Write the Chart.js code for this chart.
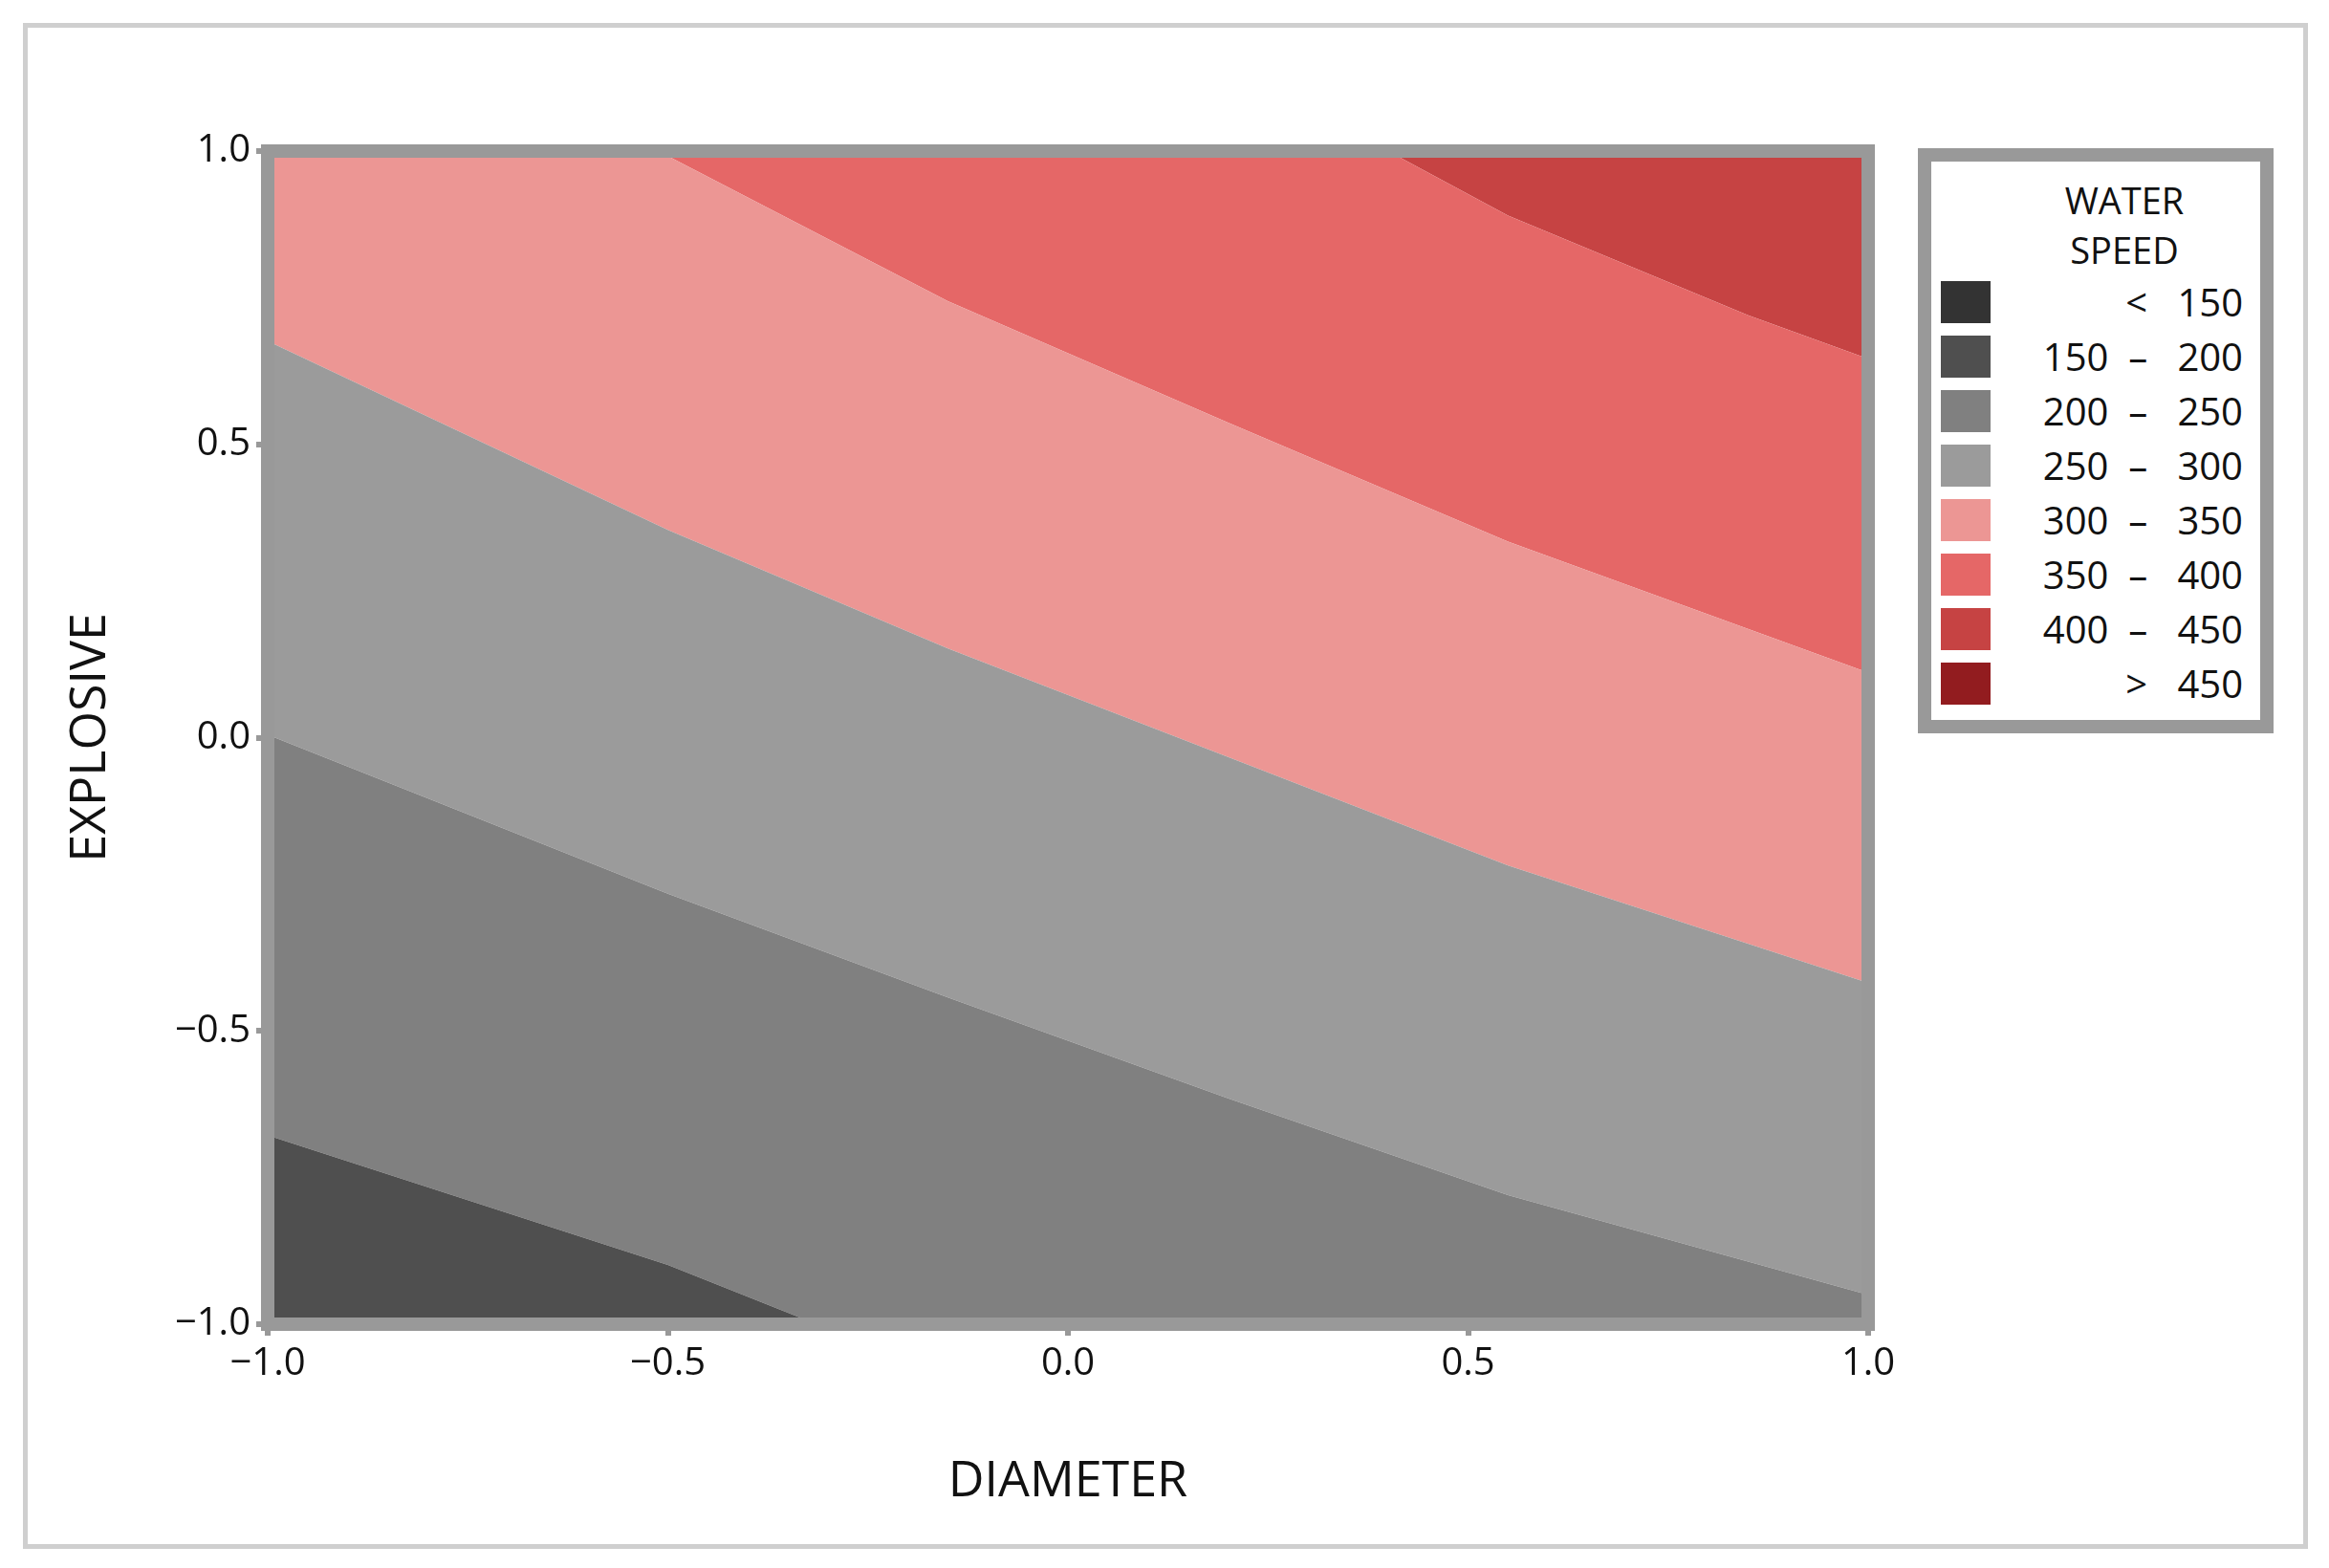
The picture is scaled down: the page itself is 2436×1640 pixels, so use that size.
<!DOCTYPE html>
<html>
<head>
<meta charset="utf-8">
<script src="https://cdn.jsdelivr.net/npm/chart.js@4"></script>
<style>
  body { margin:0; background:#fff; font-family:"Open Sans","Noto Sans",sans-serif; }
  #wrap { position:relative; width:2436px; height:1640px; }
  #frame { position:absolute; left:24px; top:24px; width:2380px; height:1586px; border:5px solid #cfcfcf; }
  canvas { position:absolute; left:0; top:0; }
  #legend { position:absolute; left:2006px; top:155px; width:344px; height:584px; border:14px solid #999; background:#fff; box-sizing:content-box; }
  #legend .title { text-align:center; font-size:38px; line-height:52px; margin-top:14px; margin-left:60px; color:#111; }
  #legend .row { display:flex; align-items:center; height:57px; font-size:40px; color:#111; }
  #legend .sw { width:52px; height:44px; margin-left:10px; }
  #legend .lab { flex:1; text-align:right; padding-right:18px; white-space:pre; }
</style>
</head>
<body>
<div id="wrap">
  <div id="frame"></div>
  <canvas id="c" width="2436" height="1640"></canvas>
  <div id="legend"></div>
</div>
<script>
// contour boundaries (x = DIAMETER, y = EXPLOSIVE)
const bottomEdge = [[-1,-1],[1,-1]];
const b150_200 = [[-1,-0.678],[-0.5,-0.899],[-0.314,-1],[1,-1]];
const b200_250 = [[-1,0.005],[-0.5,-0.266],[-0.15,-0.443],[0.2,-0.615],[0.55,-0.78],[1,-0.95]];
const b250_300 = [[-1,0.676],[-0.5,0.354],[-0.15,0.152],[0.2,-0.033],[0.55,-0.218],[1,-0.418]];
const b300_350 = [[-1,1],[-0.512,1],[-0.15,0.744],[0.2,0.537],[0.55,0.334],[1,0.111]];
const b350_400 = [[-1,1],[0.4,1],[0.55,0.89],[0.85,0.72],[1,0.646]];
const topEdge = [[-1,1],[1,1]];

const lines = [bottomEdge, b150_200, b200_250, b250_300, b300_350, b350_400, topEdge];
// colour of the band below each line (first line has none)
const bandColors = [null, '#4f4f4f', '#808080', '#9b9b9b', '#ec9694', '#e56767', '#c64343'];

const legendLabels = ['<   150', '150  –   200', '200  –   250', '250  –   300', '300  –   350', '350  –   400', '400  –   450', '>   450'];
const legendColors = ['#333333', '#4f4f4f', '#808080', '#9b9b9b', '#ec9694', '#e56767', '#c64343', '#921c1f'];
const ticks = [-1, -0.5, 0, 0.5, 1];

const lg = document.getElementById('legend');
lg.innerHTML = '<div class="title">WATER<br>SPEED</div>' + legendLabels.map((l, i) =>
  `<div class="row"><div class="sw" style="background:${legendColors[i]}"></div><div class="lab">${l}</div></div>`).join('');

const fmt = v => (v < 0 ? '\u2212' : '') + Math.abs(v).toFixed(1);

const frame = {
  id: 'frame',
  afterDatasetsDraw(ch) {
    const a = ch.chartArea, g = ch.ctx;
    g.save(); g.strokeStyle = '#999'; g.lineWidth = 14;
    g.strokeRect(a.left, a.top, a.right - a.left, a.bottom - a.top);
    g.restore();
  }
};

const tickFont = { family: '"Open Sans","Noto Sans",sans-serif', size: 40 };
const titleFont = { family: '"Open Sans","Noto Sans",sans-serif', size: 52 };

new Chart(document.getElementById('c'), {
  type: 'scatter',
  data: {
    datasets: lines.map((ln, i) => ({
      data: ln.map(p => ({ x: p[0], y: p[1] })),
      showLine: true, pointRadius: 0, borderWidth: 0, borderColor: 'rgba(0,0,0,0)',
      fill: i === 0 ? false : '-1',
      backgroundColor: bandColors[i] || 'rgba(0,0,0,0)'
    }))
  },
  options: {
    responsive: false, devicePixelRatio: 1, animation: false,
    layout: { padding: { left: 60, top: 158, right: 482, bottom: 55 } },
    plugins: { legend: { display: false }, tooltip: { enabled: false } },
    scales: {
      x: {
        type: 'linear', min: -1, max: 1,
        afterFit: s => { s.height = 200; },
        afterBuildTicks: s => { s.ticks = ticks.map(v => ({ value: v })); },
        ticks: { callback: fmt, font: tickFont, color: '#111', padding: 6 },
        grid: { drawOnChartArea: false, color: '#999', lineWidth: 6, tickLength: 12 },
        border: { display: false },
        title: { display: true, text: 'DIAMETER', font: titleFont, color: '#111', padding: { top: 30 } }
      },
      y: {
        type: 'linear', min: -1, max: 1,
        afterFit: s => { s.width = 220; },
        afterBuildTicks: s => { s.ticks = ticks.map(v => ({ value: v })); },
        ticks: { callback: fmt, font: tickFont, color: '#111', padding: 6 },
        grid: { drawOnChartArea: false, color: '#999', lineWidth: 6, tickLength: 12 },
        border: { display: false },
        title: { display: true, text: 'EXPLOSIVE', font: titleFont, color: '#111', padding: { bottom: 20 } }
      }
    }
  },
  plugins: [frame]
});
</script>
</body>
</html>
